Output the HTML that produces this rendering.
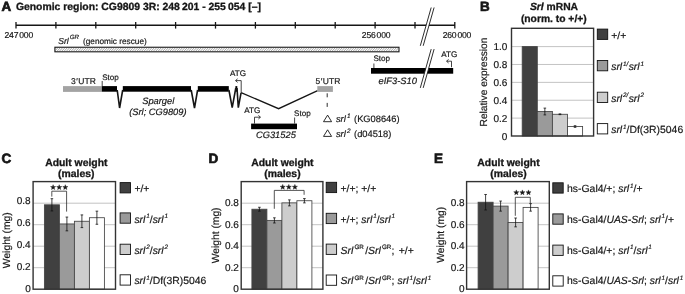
<!DOCTYPE html><html><head><meta charset="utf-8"><style>html,body{margin:0;padding:0;background:#fff;overflow:hidden}svg{display:block;filter:blur(0.35px)}text{font-family:"Liberation Sans",sans-serif;text-rendering:geometricPrecision;stroke:#161616;stroke-width:0.18px}</style></head><body>
<svg width="685" height="294" viewBox="0 0 685 294">
<defs><pattern id="hatch" width="1.68" height="4" patternUnits="userSpaceOnUse" patternTransform="rotate(45)"><rect width="1.68" height="4" fill="#fff"/><rect x="0" y="0" width="0.7" height="4" fill="#8c8c8c"/></pattern></defs>
<rect width="685" height="294" fill="#fff"/>
<text x="1.6" y="11.4" font-size="13.4" font-weight="bold" font-style="normal" text-anchor="start" fill="#161616" style="stroke-width:0.7px">A</text>
<text x="15.9" y="9.9" font-size="10.4" font-weight="bold" font-style="normal" text-anchor="start" fill="#161616" style="stroke-width:0.3px">Genomic region: CG9809 3R: 248&#8201;201 - 255&#8201;054 [–]</text>
<line x1="16" y1="25.25" x2="455" y2="25.25" stroke="#161616" stroke-width="1.4"/>
<line x1="16.0" y1="22" x2="16.0" y2="28.6" stroke="#161616" stroke-width="1.3"/>
<line x1="55.9" y1="22" x2="55.9" y2="28.6" stroke="#161616" stroke-width="1.3"/>
<line x1="95.8" y1="22" x2="95.8" y2="28.6" stroke="#161616" stroke-width="1.3"/>
<line x1="135.7" y1="22" x2="135.7" y2="28.6" stroke="#161616" stroke-width="1.3"/>
<line x1="175.6" y1="22" x2="175.6" y2="28.6" stroke="#161616" stroke-width="1.3"/>
<line x1="215.5" y1="22" x2="215.5" y2="28.6" stroke="#161616" stroke-width="1.3"/>
<line x1="255.4" y1="22" x2="255.4" y2="28.6" stroke="#161616" stroke-width="1.3"/>
<line x1="295.3" y1="22" x2="295.3" y2="28.6" stroke="#161616" stroke-width="1.3"/>
<line x1="335.2" y1="22" x2="335.2" y2="28.6" stroke="#161616" stroke-width="1.3"/>
<line x1="375.1" y1="22" x2="375.1" y2="28.6" stroke="#161616" stroke-width="1.3"/>
<line x1="415.0" y1="22" x2="415.0" y2="28.6" stroke="#161616" stroke-width="1.3"/>
<line x1="454.8" y1="22" x2="454.8" y2="28.6" stroke="#161616" stroke-width="1.3"/>
<text x="4.5" y="37.9" font-size="8.6" letter-spacing="-0.2" fill="#161616">247<tspan dx="1.0">000</tspan></text>
<text x="361.8" y="37.9" font-size="8.6" letter-spacing="-0.2" fill="#161616">256<tspan dx="1.0">000</tspan></text>
<text x="442.7" y="37.9" font-size="8.6" letter-spacing="-0.2" fill="#161616">260<tspan dx="1.0">000</tspan></text>
<clipPath id="hc"><rect x="55.4" y="47.8" width="343.1" height="3.5"/></clipPath>
<path d="M52.00 51.6l3.6 -3.9M54.35 51.6l3.6 -3.9M56.70 51.6l3.6 -3.9M59.05 51.6l3.6 -3.9M61.40 51.6l3.6 -3.9M63.75 51.6l3.6 -3.9M66.10 51.6l3.6 -3.9M68.45 51.6l3.6 -3.9M70.80 51.6l3.6 -3.9M73.15 51.6l3.6 -3.9M75.50 51.6l3.6 -3.9M77.85 51.6l3.6 -3.9M80.20 51.6l3.6 -3.9M82.55 51.6l3.6 -3.9M84.90 51.6l3.6 -3.9M87.25 51.6l3.6 -3.9M89.60 51.6l3.6 -3.9M91.95 51.6l3.6 -3.9M94.30 51.6l3.6 -3.9M96.65 51.6l3.6 -3.9M99.00 51.6l3.6 -3.9M101.35 51.6l3.6 -3.9M103.70 51.6l3.6 -3.9M106.05 51.6l3.6 -3.9M108.40 51.6l3.6 -3.9M110.75 51.6l3.6 -3.9M113.10 51.6l3.6 -3.9M115.45 51.6l3.6 -3.9M117.80 51.6l3.6 -3.9M120.15 51.6l3.6 -3.9M122.50 51.6l3.6 -3.9M124.85 51.6l3.6 -3.9M127.20 51.6l3.6 -3.9M129.55 51.6l3.6 -3.9M131.90 51.6l3.6 -3.9M134.25 51.6l3.6 -3.9M136.60 51.6l3.6 -3.9M138.95 51.6l3.6 -3.9M141.30 51.6l3.6 -3.9M143.65 51.6l3.6 -3.9M146.00 51.6l3.6 -3.9M148.35 51.6l3.6 -3.9M150.70 51.6l3.6 -3.9M153.05 51.6l3.6 -3.9M155.40 51.6l3.6 -3.9M157.75 51.6l3.6 -3.9M160.10 51.6l3.6 -3.9M162.45 51.6l3.6 -3.9M164.80 51.6l3.6 -3.9M167.15 51.6l3.6 -3.9M169.50 51.6l3.6 -3.9M171.85 51.6l3.6 -3.9M174.20 51.6l3.6 -3.9M176.55 51.6l3.6 -3.9M178.90 51.6l3.6 -3.9M181.25 51.6l3.6 -3.9M183.60 51.6l3.6 -3.9M185.95 51.6l3.6 -3.9M188.30 51.6l3.6 -3.9M190.65 51.6l3.6 -3.9M193.00 51.6l3.6 -3.9M195.35 51.6l3.6 -3.9M197.70 51.6l3.6 -3.9M200.05 51.6l3.6 -3.9M202.40 51.6l3.6 -3.9M204.75 51.6l3.6 -3.9M207.10 51.6l3.6 -3.9M209.45 51.6l3.6 -3.9M211.80 51.6l3.6 -3.9M214.15 51.6l3.6 -3.9M216.50 51.6l3.6 -3.9M218.85 51.6l3.6 -3.9M221.20 51.6l3.6 -3.9M223.55 51.6l3.6 -3.9M225.90 51.6l3.6 -3.9M228.25 51.6l3.6 -3.9M230.60 51.6l3.6 -3.9M232.95 51.6l3.6 -3.9M235.30 51.6l3.6 -3.9M237.65 51.6l3.6 -3.9M240.00 51.6l3.6 -3.9M242.35 51.6l3.6 -3.9M244.70 51.6l3.6 -3.9M247.05 51.6l3.6 -3.9M249.40 51.6l3.6 -3.9M251.75 51.6l3.6 -3.9M254.10 51.6l3.6 -3.9M256.45 51.6l3.6 -3.9M258.80 51.6l3.6 -3.9M261.15 51.6l3.6 -3.9M263.50 51.6l3.6 -3.9M265.85 51.6l3.6 -3.9M268.20 51.6l3.6 -3.9M270.55 51.6l3.6 -3.9M272.90 51.6l3.6 -3.9M275.25 51.6l3.6 -3.9M277.60 51.6l3.6 -3.9M279.95 51.6l3.6 -3.9M282.30 51.6l3.6 -3.9M284.65 51.6l3.6 -3.9M287.00 51.6l3.6 -3.9M289.35 51.6l3.6 -3.9M291.70 51.6l3.6 -3.9M294.05 51.6l3.6 -3.9M296.40 51.6l3.6 -3.9M298.75 51.6l3.6 -3.9M301.10 51.6l3.6 -3.9M303.45 51.6l3.6 -3.9M305.80 51.6l3.6 -3.9M308.15 51.6l3.6 -3.9M310.50 51.6l3.6 -3.9M312.85 51.6l3.6 -3.9M315.20 51.6l3.6 -3.9M317.55 51.6l3.6 -3.9M319.90 51.6l3.6 -3.9M322.25 51.6l3.6 -3.9M324.60 51.6l3.6 -3.9M326.95 51.6l3.6 -3.9M329.30 51.6l3.6 -3.9M331.65 51.6l3.6 -3.9M334.00 51.6l3.6 -3.9M336.35 51.6l3.6 -3.9M338.70 51.6l3.6 -3.9M341.05 51.6l3.6 -3.9M343.40 51.6l3.6 -3.9M345.75 51.6l3.6 -3.9M348.10 51.6l3.6 -3.9M350.45 51.6l3.6 -3.9M352.80 51.6l3.6 -3.9M355.15 51.6l3.6 -3.9M357.50 51.6l3.6 -3.9M359.85 51.6l3.6 -3.9M362.20 51.6l3.6 -3.9M364.55 51.6l3.6 -3.9M366.90 51.6l3.6 -3.9M369.25 51.6l3.6 -3.9M371.60 51.6l3.6 -3.9M373.95 51.6l3.6 -3.9M376.30 51.6l3.6 -3.9M378.65 51.6l3.6 -3.9M381.00 51.6l3.6 -3.9M383.35 51.6l3.6 -3.9M385.70 51.6l3.6 -3.9M388.05 51.6l3.6 -3.9M390.40 51.6l3.6 -3.9M392.75 51.6l3.6 -3.9M395.10 51.6l3.6 -3.9M397.45 51.6l3.6 -3.9" stroke="#8a8a8a" stroke-width="0.75" fill="none" clip-path="url(#hc)"/>
<rect x="54.9" y="47.25" width="344.1" height="4.55" fill="none" stroke="#161616" stroke-width="1.1"/>
<text x="58.2" y="44.4" font-size="8.6" fill="#161616"><tspan font-style="italic">Srl</tspan><tspan font-style="italic" font-size="6.2" dy="-5.5" dx="1.0">GR</tspan><tspan dy="5.5" dx="4.0" font-size="8.25">(genomic rescue)</tspan></text>
<rect x="371" y="68.0" width="82.2" height="5.7" fill="#000"/>
<text x="373.4" y="60.8" font-size="8.1" font-weight="normal" font-style="normal" text-anchor="start" fill="#161616" >Stop</text>
<line x1="373.9" y1="63.5" x2="373.9" y2="68.0" stroke="#161616" stroke-width="0.8"/>
<text x="441.2" y="57.3" font-size="8.1" font-weight="normal" font-style="normal" text-anchor="start" fill="#161616" >ATG</text>
<path d="M451.5 67.2 V61.2 H446.8" fill="none" stroke="#161616" stroke-width="0.8"/><path d="M448.6 59.4 L446.5 61.2 L448.6 63.0" fill="none" stroke="#161616" stroke-width="0.8"/>
<text x="378.6" y="83.8" font-size="9.3" font-weight="normal" font-style="italic" text-anchor="start" fill="#161616" >eIF3-S10</text>
<polygon points="420.3,45.8 431.2,7.5 434.1,7.5 423.2,45.8" fill="#fff"/>
<line x1="420.3" y1="45.8" x2="431.2" y2="7.5" stroke="#161616" stroke-width="0.9"/>
<line x1="423.2" y1="45.8" x2="434.1" y2="7.5" stroke="#161616" stroke-width="0.9"/>
<polygon points="420.3,87.9 431.2,49.1 434.1,49.1 423.2,87.9" fill="#fff"/>
<line x1="420.3" y1="87.9" x2="431.2" y2="49.1" stroke="#161616" stroke-width="0.9"/>
<line x1="423.2" y1="87.9" x2="434.1" y2="49.1" stroke="#161616" stroke-width="0.9"/>
<rect x="63" y="86.1" width="38.8" height="5.8" fill="#a3a3a3"/>
<rect x="101.8" y="86.1" width="15.2" height="5.6" fill="#000"/>
<rect x="122.8" y="86.1" width="68.2" height="5.6" fill="#000"/>
<rect x="197.8" y="86.1" width="31.0" height="5.6" fill="#000"/>
<rect x="235.4" y="86.1" width="1.9" height="5.6" fill="#000"/>
<polyline points="117.2,90 119.6,108 122.7,90" fill="none" stroke="#161616" stroke-width="1.6" stroke-linejoin="miter"/>
<polyline points="191.2,90 194.5,108 197.6,90" fill="none" stroke="#161616" stroke-width="1.6"/>
<polyline points="228.9,90 232.2,107.7 235.8,88" fill="none" stroke="#161616" stroke-width="1.6"/>
<polyline points="237,88 238.3,107.7 241.1,92.6" fill="none" stroke="#161616" stroke-width="1.6"/>
<polyline points="241.1,92.6 278.6,108.7 317.6,90.6" fill="none" stroke="#161616" stroke-width="1.3"/>
<rect x="317.3" y="86.1" width="15.6" height="5.8" fill="#a3a3a3"/>
<text x="71" y="84.4" font-size="8.5" fill="#161616">3<tspan dx="0.5">&#8242;</tspan><tspan dx="0.5">UTR</tspan></text>
<text x="102.2" y="79.7" font-size="8.1" font-weight="normal" font-style="normal" text-anchor="start" fill="#161616" >Stop</text>
<line x1="102.2" y1="81" x2="102.2" y2="86.1" stroke="#161616" stroke-width="0.8"/>
<text x="230" y="76.1" font-size="8.1" font-weight="normal" font-style="normal" text-anchor="start" fill="#161616" >ATG</text>
<path d="M241.2 92 V80.6 H235.8" fill="none" stroke="#161616" stroke-width="0.8"/><path d="M237.6 78.8 L235.5 80.6 L237.6 82.4" fill="none" stroke="#161616" stroke-width="0.8"/>
<text x="142.2" y="104.4" font-size="9.3" font-weight="normal" font-style="italic" text-anchor="start" fill="#161616" >Spargel</text>
<text x="129.2" y="114.6" font-size="9.3" font-weight="normal" font-style="italic" text-anchor="start" fill="#161616" >(Srl; CG9809)</text>
<rect x="251.1" y="123.6" width="45.9" height="5.6" fill="#000"/>
<path d="M254.5 123.6 V117.2 H260.2" fill="none" stroke="#161616" stroke-width="0.8"/><path d="M258.4 115.4 L260.5 117.2 L258.4 119" fill="none" stroke="#161616" stroke-width="0.8"/>
<text x="244.2" y="113.2" font-size="8.1" font-weight="normal" font-style="normal" text-anchor="start" fill="#161616" >ATG</text>
<text x="294" y="115.5" font-size="8.1" font-weight="normal" font-style="normal" text-anchor="start" fill="#161616" >Stop</text>
<line x1="294.6" y1="117.5" x2="294.6" y2="123.6" stroke="#161616" stroke-width="0.8"/>
<text x="256" y="138.4" font-size="9.3" font-weight="normal" font-style="italic" text-anchor="start" fill="#161616" >CG31525</text>
<text x="315.6" y="84.2" font-size="8.5" fill="#161616">5<tspan dx="0.5">&#8242;</tspan><tspan dx="0.4">UTR</tspan></text>
<line x1="327.2" y1="93.3" x2="327.2" y2="108" stroke="#161616" stroke-width="0.9" stroke-dasharray="4,5.6"/>
<polygon points="323.5,121.69999999999999 327.6,115.1 331.6,121.69999999999999" fill="none" stroke="#161616" stroke-width="0.9"/>
<text x="335.9" y="122.1" font-size="9.3" font-weight="normal" text-anchor="start" fill="#161616"><tspan font-style="italic">srl</tspan><tspan font-style="italic" dy="-4.00" font-size="6.40" dx="1.2">1</tspan><tspan dy="4.00" dx="3.6">(KG08646)</tspan></text>
<polygon points="323.5,136.4 327.6,129.8 331.6,136.4" fill="none" stroke="#161616" stroke-width="0.9"/>
<text x="335.9" y="136.8" font-size="9.3" font-weight="normal" text-anchor="start" fill="#161616"><tspan font-style="italic">srl</tspan><tspan font-style="italic" dy="-4.00" font-size="6.40" dx="1.2">2</tspan><tspan dy="4.00" dx="3.6">(d04518)</tspan></text>
<text x="480.0" y="11.3" font-size="13.4" font-weight="bold" font-style="normal" text-anchor="start" fill="#161616" style="stroke-width:0.7px">B</text>
<text x="554" y="10.3" font-size="10.3" font-weight="bold" text-anchor="middle" fill="#161616" style="stroke-width:0.3px"><tspan font-style="italic">Srl</tspan> mRNA</text>
<text x="553.8" y="22.2" font-size="10.3" font-weight="bold" font-style="normal" text-anchor="middle" fill="#161616" style="stroke-width:0.3px">(norm. to +/+)</text>
<line x1="511.5" y1="118.12" x2="593.6" y2="118.12" stroke="#b4b4b4" stroke-width="0.8"/>
<line x1="511.5" y1="100.24" x2="593.6" y2="100.24" stroke="#b4b4b4" stroke-width="0.8"/>
<line x1="511.5" y1="82.36" x2="593.6" y2="82.36" stroke="#b4b4b4" stroke-width="0.8"/>
<line x1="511.5" y1="64.48" x2="593.6" y2="64.48" stroke="#b4b4b4" stroke-width="0.8"/>
<line x1="511.5" y1="46.60" x2="593.6" y2="46.60" stroke="#b4b4b4" stroke-width="0.8"/>
<rect x="522.20" y="46.60" width="15.1" height="89.40" fill="#404040" stroke="#444" stroke-width="0.85"/>
<rect x="537.30" y="111.50" width="15.1" height="24.50" fill="#9a9a9a" stroke="#444" stroke-width="0.85"/>
<rect x="552.40" y="114.28" width="15.1" height="21.72" fill="#cdcdcd" stroke="#444" stroke-width="0.85"/>
<rect x="567.50" y="126.52" width="15.1" height="9.48" fill="#ffffff" stroke="#444" stroke-width="0.85"/>
<path d="M544.85 108.11 V114.90 M543.55 108.11 H546.15 M543.55 114.90 H546.15" stroke="#111" stroke-width="0.8" fill="none"/>
<path d="M559.95 113.92 V114.63 M558.65 113.92 H561.25 M558.65 114.63 H561.25" stroke="#111" stroke-width="0.8" fill="none"/>
<path d="M575.05 125.72 V127.33 M573.75 125.72 H576.35 M573.75 127.33 H576.35" stroke="#111" stroke-width="0.8" fill="none"/>
<rect x="511.5" y="28.3" width="82.10000000000002" height="107.7" fill="none" stroke="#333" stroke-width="1.4"/>
<text x="507.4" y="139.6" font-size="10" font-weight="normal" font-style="normal" text-anchor="end" fill="#161616" >0</text>
<text x="507.4" y="121.72" font-size="10" font-weight="normal" font-style="normal" text-anchor="end" fill="#161616" >0.2</text>
<text x="507.4" y="103.84" font-size="10" font-weight="normal" font-style="normal" text-anchor="end" fill="#161616" >0.4</text>
<text x="507.4" y="85.96" font-size="10" font-weight="normal" font-style="normal" text-anchor="end" fill="#161616" >0.6</text>
<text x="507.4" y="68.08" font-size="10" font-weight="normal" font-style="normal" text-anchor="end" fill="#161616" >0.8</text>
<text x="507.4" y="50.2" font-size="10" font-weight="normal" font-style="normal" text-anchor="end" fill="#161616" >1.0</text>
<text transform="translate(487.1,82) rotate(-90)" font-size="10.2" text-anchor="middle" fill="#161616">Relative expression</text>
<rect x="597.3" y="29.1" width="10.4" height="10.3" fill="#404040" stroke="#111" stroke-width="0.9"/>
<text x="611.2" y="38.7" font-size="10.4" font-weight="normal" text-anchor="start" fill="#161616"><tspan >+/+</tspan></text>
<rect x="597.3" y="60.5" width="10.4" height="10.3" fill="#9a9a9a" stroke="#111" stroke-width="0.9"/>
<text x="611.2" y="70.1" font-size="10.4" font-weight="normal" text-anchor="start" fill="#161616"><tspan font-style="italic">srl</tspan><tspan font-style="italic" dy="-4.40" font-size="6.30" dx="0.9">1/</tspan><tspan font-style="italic" dy="4.40" dx="0.3">srl</tspan><tspan font-style="italic" dy="-4.40" font-size="6.30" dx="0.9">1</tspan></text>
<rect x="597.3" y="92.2" width="10.4" height="10.3" fill="#cdcdcd" stroke="#111" stroke-width="0.9"/>
<text x="611.2" y="101.8" font-size="10.4" font-weight="normal" text-anchor="start" fill="#161616"><tspan font-style="italic">srl</tspan><tspan font-style="italic" dy="-4.40" font-size="6.30" dx="0.9">2/</tspan><tspan font-style="italic" dy="4.40" dx="0.3">srl</tspan><tspan font-style="italic" dy="-4.40" font-size="6.30" dx="0.9">2</tspan></text>
<rect x="597.3" y="123.6" width="10.4" height="10.3" fill="#ffffff" stroke="#111" stroke-width="0.9"/>
<text x="611.2" y="133.2" font-size="10.4" font-weight="normal" text-anchor="start" fill="#161616"><tspan font-style="italic">srl</tspan><tspan font-style="italic" dy="-4.40" font-size="6.30" dx="0.9">1</tspan><tspan dy="4.40">/Df(3R)5046</tspan></text>
<text x="1.4" y="163.2" font-size="13.5" font-weight="bold" font-style="normal" text-anchor="start" fill="#161616" style="stroke-width:0.7px">C</text>
<text x="76.3" y="165.7" font-size="10.4" font-weight="bold" font-style="normal" text-anchor="middle" fill="#161616" style="stroke-width:0.3px">Adult weight</text>
<text x="76.3" y="176.9" font-size="10.4" font-weight="bold" font-style="normal" text-anchor="middle" fill="#161616" style="stroke-width:0.3px">(males)</text>
<line x1="33.1" y1="267.70" x2="115.5" y2="267.70" stroke="#b4b4b4" stroke-width="0.8"/>
<line x1="33.1" y1="246.20" x2="115.5" y2="246.20" stroke="#b4b4b4" stroke-width="0.8"/>
<line x1="33.1" y1="224.70" x2="115.5" y2="224.70" stroke="#b4b4b4" stroke-width="0.8"/>
<line x1="33.1" y1="203.20" x2="115.5" y2="203.20" stroke="#b4b4b4" stroke-width="0.8"/>
<rect x="44.40" y="204.81" width="15" height="84.39" fill="#404040" stroke="#444" stroke-width="0.85"/>
<rect x="59.40" y="223.95" width="15" height="65.25" fill="#9a9a9a" stroke="#444" stroke-width="0.85"/>
<rect x="74.40" y="221.26" width="15" height="67.94" fill="#cdcdcd" stroke="#444" stroke-width="0.85"/>
<rect x="89.40" y="217.71" width="15" height="71.49" fill="#ffffff" stroke="#444" stroke-width="0.85"/>
<path d="M51.90 198.69 V210.94 M50.60 198.69 H53.20 M50.60 210.94 H53.20" stroke="#111" stroke-width="0.8" fill="none"/>
<path d="M66.90 217.07 V230.83 M65.60 217.07 H68.20 M65.60 230.83 H68.20" stroke="#111" stroke-width="0.8" fill="none"/>
<path d="M81.90 214.92 V227.60 M80.60 214.92 H83.20 M80.60 227.60 H83.20" stroke="#111" stroke-width="0.8" fill="none"/>
<path d="M96.90 211.15 V224.27 M95.60 211.15 H98.20 M95.60 224.27 H98.20" stroke="#111" stroke-width="0.8" fill="none"/>
<rect x="33.1" y="181.6" width="82.4" height="107.6" fill="none" stroke="#333" stroke-width="1.4"/>
<text x="30.7" y="292.2" font-size="10" font-weight="normal" font-style="normal" text-anchor="end" fill="#161616" >0</text>
<text x="30.7" y="270.3" font-size="10" font-weight="normal" font-style="normal" text-anchor="end" fill="#161616" >0.2</text>
<text x="30.7" y="248.2" font-size="10" font-weight="normal" font-style="normal" text-anchor="end" fill="#161616" >0.4</text>
<text x="30.7" y="226.2" font-size="10" font-weight="normal" font-style="normal" text-anchor="end" fill="#161616" >0.6</text>
<text x="30.7" y="204.3" font-size="10" font-weight="normal" font-style="normal" text-anchor="end" fill="#161616" >0.8</text>
<text transform="translate(9.7,240.2) rotate(-90)" font-size="10.3" text-anchor="middle" fill="#161616">Weight (mg)</text>
<path d="M51.8 196.6 V191.2 H66.6 V211.6" fill="none" stroke="#2a2a2a" stroke-width="0.8"/>
<polygon points="53.10,184.70 53.77,186.48 55.67,186.57 54.18,187.75 54.69,189.58 53.10,188.53 51.51,189.58 52.02,187.75 50.53,186.57 52.43,186.48" fill="#161616" stroke="#161616" stroke-width="0.4" stroke-linejoin="round"/>
<polygon points="59.20,184.70 59.87,186.48 61.77,186.57 60.28,187.75 60.79,189.58 59.20,188.53 57.61,189.58 58.12,187.75 56.63,186.57 58.53,186.48" fill="#161616" stroke="#161616" stroke-width="0.4" stroke-linejoin="round"/>
<polygon points="65.30,184.70 65.97,186.48 67.87,186.57 66.38,187.75 66.89,189.58 65.30,188.53 63.71,189.58 64.22,187.75 62.73,186.57 64.63,186.48" fill="#161616" stroke="#161616" stroke-width="0.4" stroke-linejoin="round"/>
<rect x="120.1" y="182.6" width="10.4" height="10.3" fill="#404040" stroke="#111" stroke-width="0.9"/>
<text x="134.4" y="192.2" font-size="10.4" font-weight="normal" text-anchor="start" fill="#161616"><tspan >+/+</tspan></text>
<rect x="120.1" y="212.9" width="10.4" height="10.3" fill="#9a9a9a" stroke="#111" stroke-width="0.9"/>
<text x="134.4" y="222.5" font-size="10.4" font-weight="normal" text-anchor="start" fill="#161616"><tspan font-style="italic">srl</tspan><tspan font-style="italic" dy="-4.40" font-size="6.30" dx="0.9">1</tspan><tspan dy="4.40">/</tspan><tspan font-style="italic">srl</tspan><tspan font-style="italic" dy="-4.40" font-size="6.30" dx="0.9">1</tspan></text>
<rect x="120.1" y="244.2" width="10.4" height="10.3" fill="#cdcdcd" stroke="#111" stroke-width="0.9"/>
<text x="134.4" y="253.79999999999998" font-size="10.4" font-weight="normal" text-anchor="start" fill="#161616"><tspan font-style="italic">srl</tspan><tspan font-style="italic" dy="-4.40" font-size="6.30" dx="0.9">2</tspan><tspan dy="4.40">/</tspan><tspan font-style="italic">srl</tspan><tspan font-style="italic" dy="-4.40" font-size="6.30" dx="0.9">2</tspan></text>
<rect x="120.1" y="274.8" width="10.4" height="10.3" fill="#ffffff" stroke="#111" stroke-width="0.9"/>
<text x="134.4" y="284.40000000000003" font-size="10.4" font-weight="normal" text-anchor="start" fill="#161616"><tspan font-style="italic">srl</tspan><tspan font-style="italic" dy="-4.40" font-size="6.30" dx="0.9">1</tspan><tspan dy="4.40">/Df(3R)5046</tspan></text>
<text x="208.4" y="163.2" font-size="13.5" font-weight="bold" font-style="normal" text-anchor="start" fill="#161616" style="stroke-width:0.7px">D</text>
<text x="282.4" y="165.7" font-size="10.4" font-weight="bold" font-style="normal" text-anchor="middle" fill="#161616" style="stroke-width:0.3px">Adult weight</text>
<text x="282.4" y="176.9" font-size="10.4" font-weight="bold" font-style="normal" text-anchor="middle" fill="#161616" style="stroke-width:0.3px">(males)</text>
<line x1="241.2" y1="267.70" x2="322.9" y2="267.70" stroke="#b4b4b4" stroke-width="0.8"/>
<line x1="241.2" y1="246.20" x2="322.9" y2="246.20" stroke="#b4b4b4" stroke-width="0.8"/>
<line x1="241.2" y1="224.70" x2="322.9" y2="224.70" stroke="#b4b4b4" stroke-width="0.8"/>
<line x1="241.2" y1="203.20" x2="322.9" y2="203.20" stroke="#b4b4b4" stroke-width="0.8"/>
<rect x="251.90" y="209.22" width="15" height="79.98" fill="#404040" stroke="#444" stroke-width="0.85"/>
<rect x="266.90" y="220.40" width="15" height="68.80" fill="#9a9a9a" stroke="#444" stroke-width="0.85"/>
<rect x="281.90" y="202.88" width="15" height="86.32" fill="#cdcdcd" stroke="#444" stroke-width="0.85"/>
<rect x="296.90" y="200.73" width="15" height="88.47" fill="#ffffff" stroke="#444" stroke-width="0.85"/>
<path d="M259.40 207.28 V211.15 M258.10 207.28 H260.70 M258.10 211.15 H260.70" stroke="#111" stroke-width="0.8" fill="none"/>
<path d="M274.40 217.82 V222.98 M273.10 217.82 H275.70 M273.10 222.98 H275.70" stroke="#111" stroke-width="0.8" fill="none"/>
<path d="M289.40 199.87 V205.89 M288.10 199.87 H290.70 M288.10 205.89 H290.70" stroke="#111" stroke-width="0.8" fill="none"/>
<path d="M304.40 198.58 V202.88 M303.10 198.58 H305.70 M303.10 202.88 H305.70" stroke="#111" stroke-width="0.8" fill="none"/>
<rect x="241.2" y="181.6" width="81.69999999999999" height="107.6" fill="none" stroke="#333" stroke-width="1.4"/>
<text x="238.9" y="292.4" font-size="10" font-weight="normal" font-style="normal" text-anchor="end" fill="#161616" >0</text>
<text x="238.9" y="270.9" font-size="10" font-weight="normal" font-style="normal" text-anchor="end" fill="#161616" >0.2</text>
<text x="238.9" y="249.39999999999998" font-size="10" font-weight="normal" font-style="normal" text-anchor="end" fill="#161616" >0.4</text>
<text x="238.9" y="227.89999999999998" font-size="10" font-weight="normal" font-style="normal" text-anchor="end" fill="#161616" >0.6</text>
<text x="238.9" y="206.39999999999998" font-size="10" font-weight="normal" font-style="normal" text-anchor="end" fill="#161616" >0.8</text>
<text transform="translate(218.5,235.4) rotate(-90)" font-size="10.3" text-anchor="middle" fill="#161616">Weight (mg)</text>
<path d="M274.3 208.8 V190.4 H304.1 V194.8" fill="none" stroke="#2a2a2a" stroke-width="0.8"/>
<polygon points="282.70,184.40 283.37,186.18 285.27,186.27 283.78,187.45 284.29,189.28 282.70,188.23 281.11,189.28 281.62,187.45 280.13,186.27 282.03,186.18" fill="#161616" stroke="#161616" stroke-width="0.4" stroke-linejoin="round"/>
<polygon points="288.80,184.40 289.47,186.18 291.37,186.27 289.88,187.45 290.39,189.28 288.80,188.23 287.21,189.28 287.72,187.45 286.23,186.27 288.13,186.18" fill="#161616" stroke="#161616" stroke-width="0.4" stroke-linejoin="round"/>
<polygon points="294.90,184.40 295.57,186.18 297.47,186.27 295.98,187.45 296.49,189.28 294.90,188.23 293.31,189.28 293.82,187.45 292.33,186.27 294.23,186.18" fill="#161616" stroke="#161616" stroke-width="0.4" stroke-linejoin="round"/>
<rect x="326.2" y="182.3" width="10.4" height="10.3" fill="#404040" stroke="#111" stroke-width="0.9"/>
<text x="340.5" y="192.2" font-size="10.4" font-weight="normal" text-anchor="start" fill="#161616"><tspan >+/+; +/+</tspan></text>
<rect x="326.2" y="213.3" width="10.4" height="10.3" fill="#9a9a9a" stroke="#111" stroke-width="0.9"/>
<text x="340.5" y="222.5" font-size="10.4" font-weight="normal" text-anchor="start" fill="#161616"><tspan >+/+; </tspan><tspan font-style="italic">srl</tspan><tspan font-style="italic" dy="-4.40" font-size="6.30" dx="0.9">1</tspan><tspan dy="4.40">/</tspan><tspan font-style="italic">srl</tspan><tspan font-style="italic" dy="-4.40" font-size="6.30" dx="0.9">1</tspan></text>
<rect x="326.2" y="244.1" width="10.4" height="10.3" fill="#cdcdcd" stroke="#111" stroke-width="0.9"/>
<text x="340.5" y="253.79999999999998" font-size="10.4" font-weight="normal" text-anchor="start" fill="#161616"><tspan font-style="italic">Srl</tspan><tspan dy="-4.40" font-size="6.30" dx="1.2">GR</tspan><tspan dy="4.40" dx="1.3">/</tspan><tspan font-style="italic">Srl</tspan><tspan dy="-4.40" font-size="6.30" dx="1.2">GR</tspan><tspan dy="4.40">; </tspan><tspan dx="1.6">+/+</tspan></text>
<rect x="326.2" y="275.0" width="10.4" height="10.3" fill="#ffffff" stroke="#111" stroke-width="0.9"/>
<text x="340.5" y="284.40000000000003" font-size="10.4" font-weight="normal" text-anchor="start" fill="#161616"><tspan font-style="italic">Srl</tspan><tspan dy="-4.40" font-size="6.30" dx="1.2">GR</tspan><tspan dy="4.40" dx="1.3">/</tspan><tspan font-style="italic">Srl</tspan><tspan dy="-4.40" font-size="6.30" dx="1.2">GR</tspan><tspan dy="4.40">; </tspan><tspan font-style="italic" dx="0.4">srl</tspan><tspan font-style="italic" dy="-4.40" font-size="6.30" dx="0.9">1</tspan><tspan dy="4.40">/</tspan><tspan font-style="italic">srl</tspan><tspan font-style="italic" dy="-4.40" font-size="6.30" dx="0.9">1</tspan></text>
<text x="434.0" y="163.2" font-size="13.5" font-weight="bold" font-style="normal" text-anchor="start" fill="#161616" style="stroke-width:0.7px">E</text>
<text x="508.5" y="165.7" font-size="10.4" font-weight="bold" font-style="normal" text-anchor="middle" fill="#161616" style="stroke-width:0.3px">Adult weight</text>
<text x="508.5" y="176.9" font-size="10.4" font-weight="bold" font-style="normal" text-anchor="middle" fill="#161616" style="stroke-width:0.3px">(males)</text>
<line x1="466.6" y1="267.70" x2="549.3" y2="267.70" stroke="#b4b4b4" stroke-width="0.8"/>
<line x1="466.6" y1="246.20" x2="549.3" y2="246.20" stroke="#b4b4b4" stroke-width="0.8"/>
<line x1="466.6" y1="224.70" x2="549.3" y2="224.70" stroke="#b4b4b4" stroke-width="0.8"/>
<line x1="466.6" y1="203.20" x2="549.3" y2="203.20" stroke="#b4b4b4" stroke-width="0.8"/>
<rect x="478.10" y="202.23" width="15" height="86.97" fill="#404040" stroke="#444" stroke-width="0.85"/>
<rect x="493.10" y="206.10" width="15" height="83.10" fill="#9a9a9a" stroke="#444" stroke-width="0.85"/>
<rect x="508.10" y="222.44" width="15" height="66.76" fill="#cdcdcd" stroke="#444" stroke-width="0.85"/>
<rect x="523.10" y="207.39" width="15" height="81.81" fill="#ffffff" stroke="#444" stroke-width="0.85"/>
<path d="M485.60 194.49 V209.97 M484.30 194.49 H486.90 M484.30 209.97 H486.90" stroke="#111" stroke-width="0.8" fill="none"/>
<path d="M500.60 201.05 V211.15 M499.30 201.05 H501.90 M499.30 211.15 H501.90" stroke="#111" stroke-width="0.8" fill="none"/>
<path d="M515.60 218.03 V226.85 M514.30 218.03 H516.90 M514.30 226.85 H516.90" stroke="#111" stroke-width="0.8" fill="none"/>
<path d="M530.60 203.63 V211.15 M529.30 203.63 H531.90 M529.30 211.15 H531.90" stroke="#111" stroke-width="0.8" fill="none"/>
<rect x="466.6" y="181.6" width="82.69999999999993" height="107.6" fill="none" stroke="#333" stroke-width="1.4"/>
<text x="464.6" y="292.4" font-size="10" font-weight="normal" font-style="normal" text-anchor="end" fill="#161616" >0</text>
<text x="464.6" y="270.9" font-size="10" font-weight="normal" font-style="normal" text-anchor="end" fill="#161616" >0.2</text>
<text x="464.6" y="249.39999999999998" font-size="10" font-weight="normal" font-style="normal" text-anchor="end" fill="#161616" >0.4</text>
<text x="464.6" y="227.89999999999998" font-size="10" font-weight="normal" font-style="normal" text-anchor="end" fill="#161616" >0.6</text>
<text x="464.6" y="206.39999999999998" font-size="10" font-weight="normal" font-style="normal" text-anchor="end" fill="#161616" >0.8</text>
<text transform="translate(443.8,234.8) rotate(-90)" font-size="10.3" text-anchor="middle" fill="#161616">Weight (mg)</text>
<path d="M515.3 215.8 V197.3 H530.3 V203.7" fill="none" stroke="#2a2a2a" stroke-width="0.8"/>
<polygon points="516.30,189.90 516.97,191.68 518.87,191.77 517.38,192.95 517.89,194.78 516.30,193.73 514.71,194.78 515.22,192.95 513.73,191.77 515.63,191.68" fill="#161616" stroke="#161616" stroke-width="0.4" stroke-linejoin="round"/>
<polygon points="522.40,189.90 523.07,191.68 524.97,191.77 523.48,192.95 523.99,194.78 522.40,193.73 520.81,194.78 521.32,192.95 519.83,191.77 521.73,191.68" fill="#161616" stroke="#161616" stroke-width="0.4" stroke-linejoin="round"/>
<polygon points="528.50,189.90 529.17,191.68 531.07,191.77 529.58,192.95 530.09,194.78 528.50,193.73 526.91,194.78 527.42,192.95 525.93,191.77 527.83,191.68" fill="#161616" stroke="#161616" stroke-width="0.4" stroke-linejoin="round"/>
<rect x="552.8" y="182.8" width="10.4" height="10.3" fill="#404040" stroke="#111" stroke-width="0.9"/>
<text x="567.0999999999999" y="192.2" font-size="10.4" font-weight="normal" text-anchor="start" fill="#161616"><tspan >hs-Gal4/+; </tspan><tspan font-style="italic">srl</tspan><tspan font-style="italic" dy="-4.40" font-size="6.30" dx="0.9">1</tspan><tspan dy="4.40">/+</tspan></text>
<rect x="552.8" y="213.9" width="10.4" height="10.3" fill="#9a9a9a" stroke="#111" stroke-width="0.9"/>
<text x="567.0999999999999" y="222.5" font-size="10.4" font-weight="normal" text-anchor="start" fill="#161616"><tspan >hs-Gal4/</tspan><tspan font-style="italic">UAS-Srl</tspan><tspan >; </tspan><tspan font-style="italic">srl</tspan><tspan font-style="italic" dy="-4.40" font-size="6.30" dx="0.9">1</tspan><tspan dy="4.40">/+</tspan></text>
<rect x="552.8" y="245.1" width="10.4" height="10.3" fill="#cdcdcd" stroke="#111" stroke-width="0.9"/>
<text x="567.0999999999999" y="253.79999999999998" font-size="10.4" font-weight="normal" text-anchor="start" fill="#161616"><tspan >hs-Gal4/+; </tspan><tspan font-style="italic">srl</tspan><tspan font-style="italic" dy="-4.40" font-size="6.30" dx="0.9">1</tspan><tspan dy="4.40">/</tspan><tspan font-style="italic">srl</tspan><tspan font-style="italic" dy="-4.40" font-size="6.30" dx="0.9">1</tspan></text>
<rect x="552.8" y="275.8" width="10.4" height="10.3" fill="#ffffff" stroke="#111" stroke-width="0.9"/>
<text x="567.0999999999999" y="284.40000000000003" font-size="10.4" font-weight="normal" text-anchor="start" fill="#161616"><tspan >hs-Gal4/</tspan><tspan font-style="italic">UAS-Srl</tspan><tspan >; </tspan><tspan font-style="italic">srl</tspan><tspan font-style="italic" dy="-4.40" font-size="6.30" dx="0.9">1</tspan><tspan dy="4.40">/</tspan><tspan font-style="italic">srl</tspan><tspan font-style="italic" dy="-4.40" font-size="6.30" dx="0.9">1</tspan></text>
</svg></body></html>
